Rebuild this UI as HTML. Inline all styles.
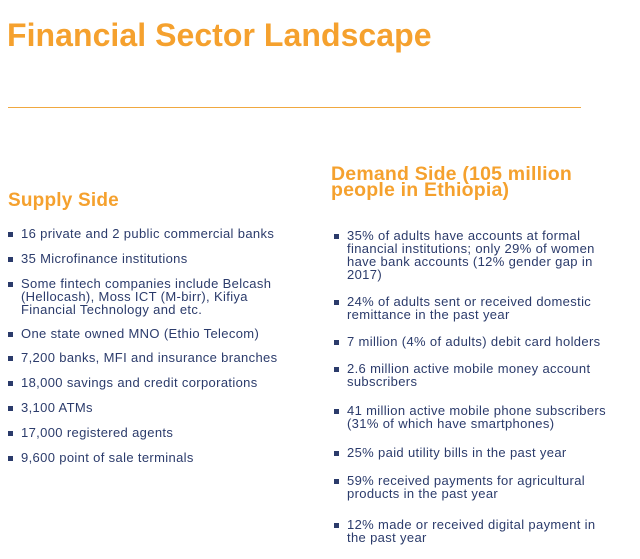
<!DOCTYPE html>
<html><head><meta charset="utf-8"><style>
body{margin:0;width:640px;height:559px;background:#fff;position:relative;overflow:hidden;font-family:"Liberation Sans",sans-serif}
.t{position:absolute;color:#f5a12e;font-weight:bold}
.i{position:absolute;color:#2b3b6b;font-size:13px;letter-spacing:0.35px;line-height:13px;white-space:nowrap}
.i:before{content:"";position:absolute;left:-13px;top:5px;width:5px;height:5px;background:#2b3b6b}
</style></head><body>
<div class="t" style="left:7px;top:17px;font-size:32px;letter-spacing:0.05px">Financial Sector Landscape</div>
<div style="position:absolute;left:8px;top:107px;width:573px;height:1px;background:#f0a840"></div>
<div class="t" style="left:8px;top:190px;font-size:19px;letter-spacing:0.2px">Supply Side</div>
<div class="t" style="left:331px;top:166px;font-size:19.5px;line-height:16px;letter-spacing:0.2px">Demand Side (105 million<br>people in Ethiopia)</div>

<div class="i" style="left:21px;top:227px">16 private and 2 public commercial banks</div>
<div class="i" style="left:21px;top:252px">35 Microfinance institutions</div>
<div class="i" style="left:21px;top:277px">Some fintech companies include Belcash<br>(Hellocash), Moss ICT (M-birr), Kifiya<br>Financial Technology and etc.</div>
<div class="i" style="left:21px;top:327px">One state owned MNO (Ethio Telecom)</div>
<div class="i" style="left:21px;top:351px">7,200 banks, MFI and insurance branches</div>
<div class="i" style="left:21px;top:376px">18,000 savings and credit corporations</div>
<div class="i" style="left:21px;top:401px">3,100 ATMs</div>
<div class="i" style="left:21px;top:426px">17,000 registered agents</div>
<div class="i" style="left:21px;top:451px">9,600 point of sale terminals</div>

<div class="i" style="left:347px;top:229px">35% of adults have accounts at formal<br>financial institutions; only 29% of women<br>have bank accounts (12% gender gap in<br>2017)</div>
<div class="i" style="left:347px;top:295px">24% of adults sent or received domestic<br>remittance in the past year</div>
<div class="i" style="left:347px;top:335px">7 million (4% of adults) debit card holders</div>
<div class="i" style="left:347px;top:362px">2.6 million active mobile money account<br>subscribers</div>
<div class="i" style="left:347px;top:404px">41 million active mobile phone subscribers<br>(31% of which have smartphones)</div>
<div class="i" style="left:347px;top:446px">25% paid utility bills in the past year</div>
<div class="i" style="left:347px;top:474px">59% received payments for agricultural<br>products in the past year</div>
<div class="i" style="left:347px;top:518px">12% made or received digital payment in<br>the past year</div>
</body></html>
